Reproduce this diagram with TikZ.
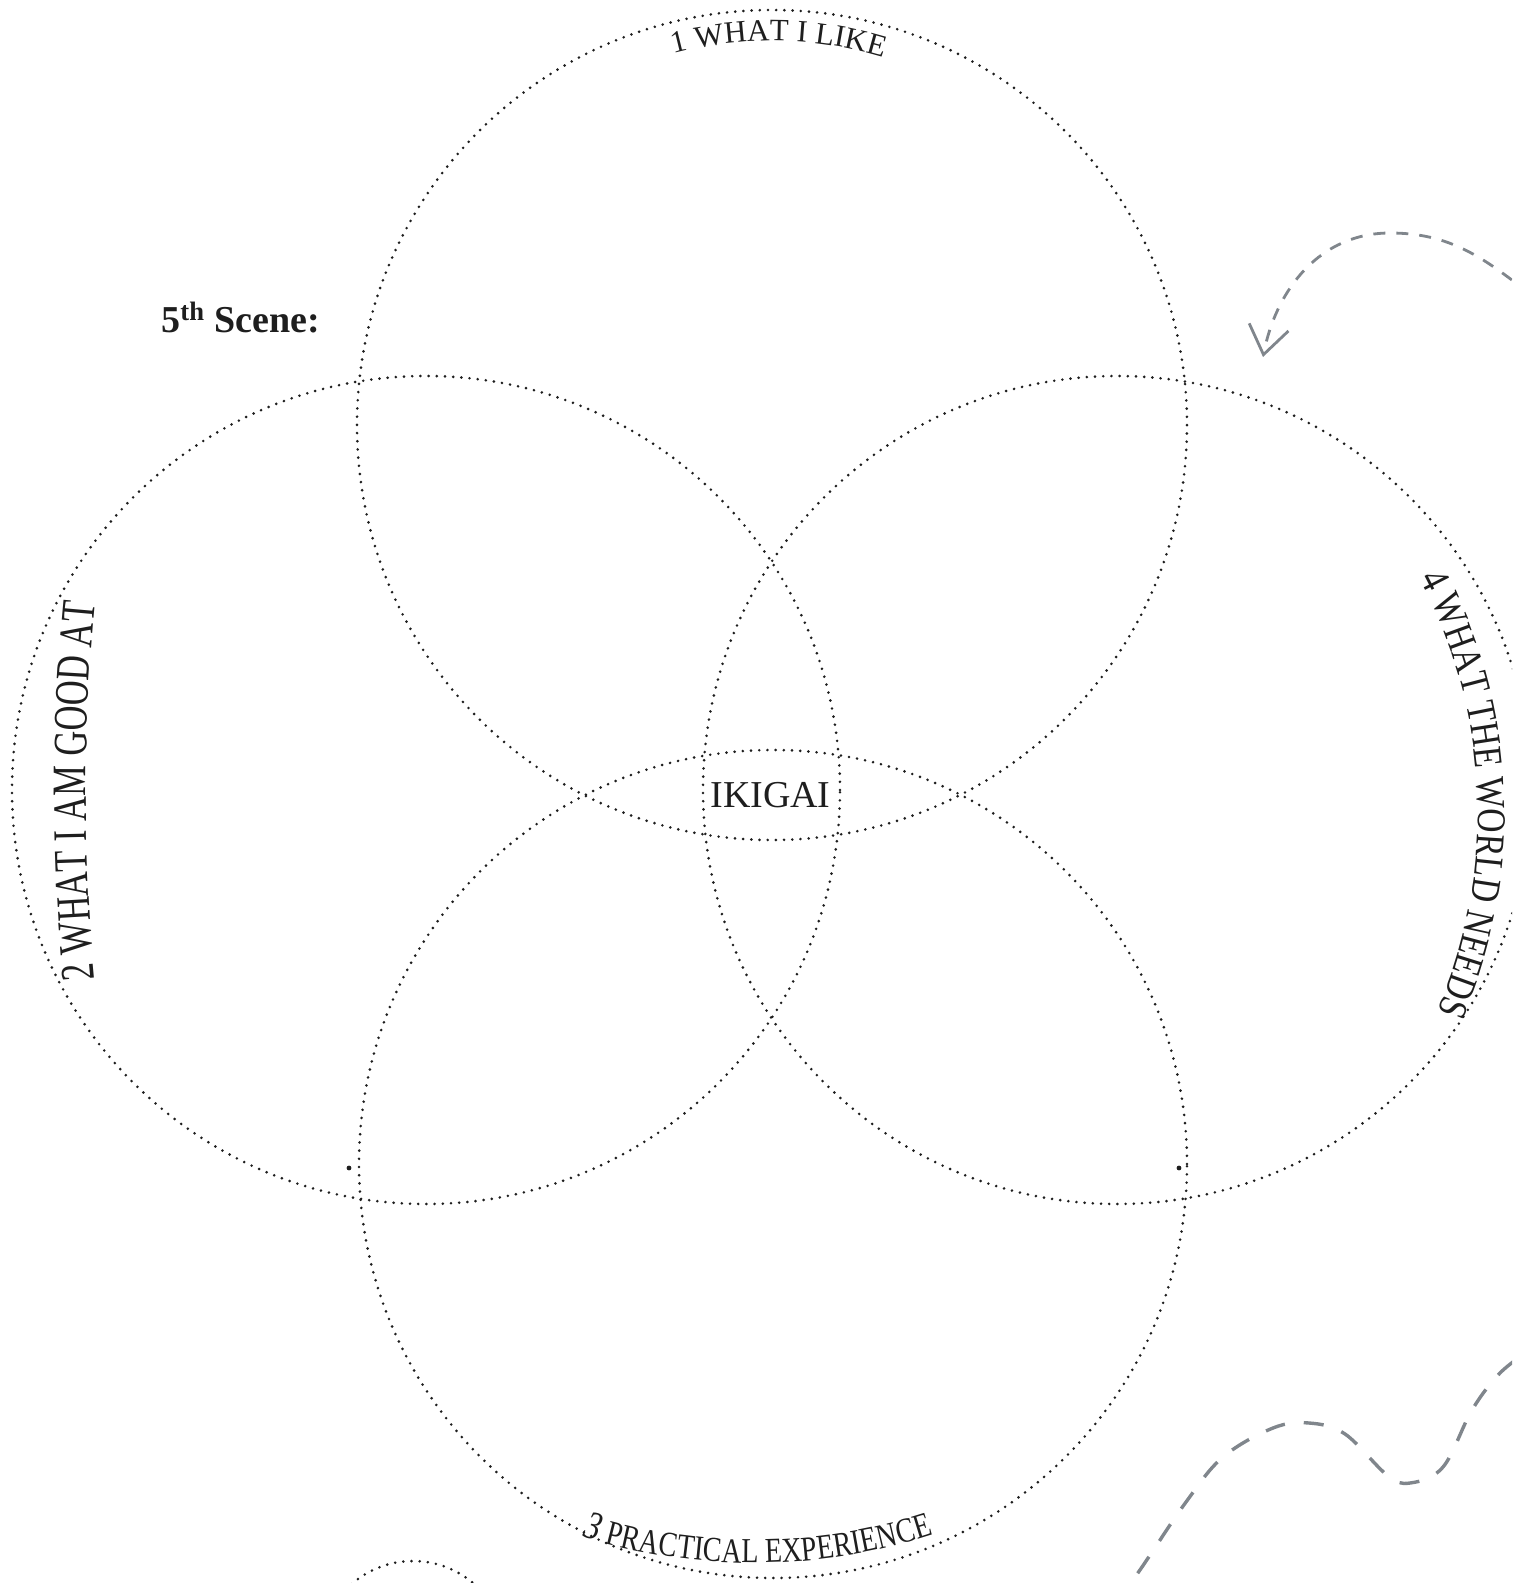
\documentclass[tikz,border=0pt]{standalone}
\usepackage{fontspec}
\setmainfont{Liberation Serif}
\newfontfamily\lblA{Liberation Serif}
\newfontfamily\lblB[FakeStretch=0.72]{Liberation Serif}
\newfontfamily\lblC[FakeStretch=0.8]{Liberation Serif}
\newfontfamily\lblD[FakeStretch=0.82]{Liberation Serif}
\usetikzlibrary{decorations.text,arrows.meta}
\definecolor{ink}{HTML}{1E1E1E}
\definecolor{dashgray}{RGB}{128,134,140}
\begin{document}
\begin{tikzpicture}[x=0.5pt,y=0.5pt,
  dots/.style={draw=ink,line width=1.45pt,line cap=round,dash pattern=on 0pt off 4.1pt},
  curvelbl/.style={decorate,decoration={text along path,text align=center,text color=ink,text={#1}}},
  grayarrow/.style={draw=dashgray,line width=1.4pt,dash pattern=on 6pt off 5.5pt},
  graywiggle/.style={draw=dashgray,line width=1.7pt,dash pattern=on 10pt off 9.5pt}]
\useasboundingbox (0,0) rectangle (1512,-1583);
\clip (0,0) rectangle (1512,-1583);
% circle centres
\coordinate (c1) at (772,-425);
\coordinate (c2) at (426,-790);
\coordinate (c3) at (773,-1164);
\coordinate (c4) at (1117,-790);
\coordinate (c5) at (413,-1654);
% text path centres
\coordinate (t2) at (2086,-791);
\coordinate (t3) at (755,-983);
\coordinate (t4) at (978,-813);
% circles
\draw[dots] (c1) circle[radius=415];
\draw[dots] (c2) circle[radius=414];
\draw[dots] (c3) circle[radius=414];
\draw[dots] (c4) circle[radius=414];
\draw[dots] (c5) circle[radius=93];
\fill[ink] (349,-1168) circle[radius=2.4];
\fill[ink] (1179,-1168) circle[radius=2.4];
% curved labels
\path[curvelbl={|\lblA\fontsize{15.5}{18}\selectfont|1 WHAT I LIKE}]
  (c1) ++(124:384) arc[start angle=124,end angle=54,radius=384];
\path[curvelbl={|\lblB\fontsize{24}{29}\selectfont|2 WHAT I AM GOOD AT}]
  (t2) ++(188:2000) arc[start angle=188,end angle=172,radius=2000];
\path[curvelbl={|\lblD\fontsize{20.5}{25}\selectfont|4 WHAT THE WORLD NEEDS}]
  (t4) ++(32.3:500) arc[start angle=32.3,end angle=-27.7,radius=500];
\path[curvelbl={|\lblC\fontsize{20}{24}\selectfont\itshape|3|\lblC\fontsize{17.5}{21}\selectfont| PRACTICAL EXPERIENCE}]
  (t3) ++(245.3:580) arc[start angle=245.3,end angle=295.3,radius=580];
% centre and title
\node[anchor=base,text=ink,font=\fontsize{19}{23}\selectfont,inner sep=0pt] (ikigai) at (770.5,-807) {IKIGAI};
\node[anchor=base west,text=ink,font=\bfseries\fontsize{19}{23}\selectfont,inner sep=0pt] (scene) at (161,-333) {5\textsuperscript{th} Scene:};
% dashed arrow top right
\coordinate (a0) at (1530,-294);
\coordinate (a1) at (1390,-233);
\coordinate (a2) at (1263,-357);
\draw[grayarrow,-{Straight Barb[length=14pt,width=20pt]}] (a0) to[out=142,in=0] (a1) to[out=180,in=79] (a2);
% dashed wiggle bottom right
\draw[graywiggle] plot[smooth,tension=0.6] coordinates {(1115,-1605) (1142,-1567) (1186,-1502) (1223,-1457) (1273,-1428) (1309,-1423) (1345,-1434) (1387,-1475) (1410,-1483) (1443,-1467) (1472,-1410) (1500,-1373) (1530,-1350)};
\end{tikzpicture}
\end{document}
